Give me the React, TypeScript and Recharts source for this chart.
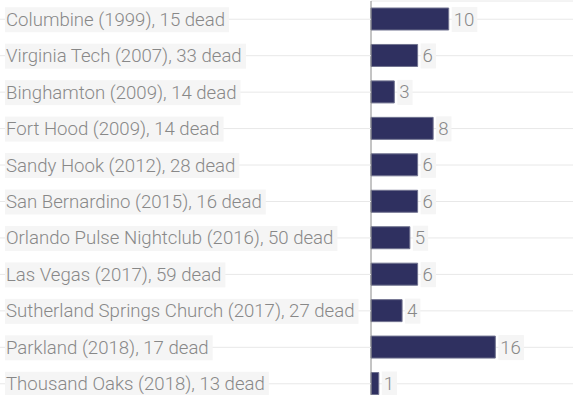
import React from 'react';
import { BarChart, Bar, XAxis, YAxis, CartesianGrid, LabelList } from 'recharts';

const shootings = [
  'Columbine (1999), 15 dead',
  'Virginia Tech (2007), 33 dead',
  'Binghamton (2009), 14 dead',
  'Fort Hood (2009), 14 dead',
  'Sandy Hook (2012), 28 dead',
  'San Bernardino (2015), 16 dead',
  'Orlando Pulse Nightclub (2016), 50 dead',
  'Las Vegas (2017), 59 dead',
  'Sutherland Springs Church (2017), 27 dead',
  'Parkland (2018), 17 dead',
  'Thousand Oaks (2018), 13 dead',
];
const counts = [10, 6, 3, 8, 6, 6, 5, 6, 4, 16, 1];

const data = shootings.map((name, i) => ({ name, value: counts[i] }));

const FAMILY = 'Roboto';
const WEIGHT = 300;
const SIZE = 18.6;
const TEXT_COLOR = '#888888';
const BOX_COLOR = '#f5f5f5';

let ctx: CanvasRenderingContext2D | null = null;
const measure = (s: string) => {
  if (!ctx) ctx = document.createElement('canvas').getContext('2d');
  if (!ctx) return s.length * 8.5;
  ctx.font = `${WEIGHT} ${SIZE}px ${FAMILY}`;
  return ctx.measureText(s).width;
};

const CategoryTick = (props: any) => {
  const { y, payload } = props;
  const w = measure(payload.value);
  return (
    <g>
      <line x1={0} x2={371} y1={y} y2={y} stroke="#e8e8e8" />
      <rect x={5} y={y - 12} width={w + 5} height={25} fill={BOX_COLOR} />
      <text x={6} y={y} dy="0.35em" fill={TEXT_COLOR} fontFamily={FAMILY} fontWeight={WEIGHT} fontSize={SIZE}>
        {payload.value}
      </text>
    </g>
  );
};

const ValueLabel = (props: any) => {
  const { x, y, width, height, value } = props;
  const s = String(value);
  const w = measure(s);
  const cy = y + height / 2;
  return (
    <g>
      <rect x={x + width + 3} y={cy - 12} width={w + 5} height={25} fill={BOX_COLOR} />
      <text x={x + width + 5} y={cy} dy="0.35em" fill={TEXT_COLOR} fontFamily={FAMILY} fontWeight={WEIGHT} fontSize={SIZE}>
        {s}
      </text>
    </g>
  );
};

export default function App() {
  return (
    <div style={{ width: 573, height: 395, overflow: 'hidden', background: '#fff' }}>
      <style>{'body{margin:0}'}</style>
      <BarChart
        width={573}
        height={402}
        data={data}
        layout="vertical"
        margin={{ top: 1, right: 0, bottom: 0, left: 0 }}
      >
        <CartesianGrid horizontal vertical={false} stroke="#e8e8e8" />
        <XAxis type="number" domain={[0, 26]} hide />
        <YAxis
          type="category"
          dataKey="name"
          width={371}
          axisLine={{ stroke: '#8a8a8a' }}
          tickLine={false}
          tick={<CategoryTick />}
          interval={0}
        />
        <Bar dataKey="value" fill="#2f3060" stroke="#70728f" strokeWidth={1} barSize={22} isAnimationActive={false}>
          <LabelList dataKey="value" content={<ValueLabel />} />
        </Bar>
      </BarChart>
    </div>
  );
}
